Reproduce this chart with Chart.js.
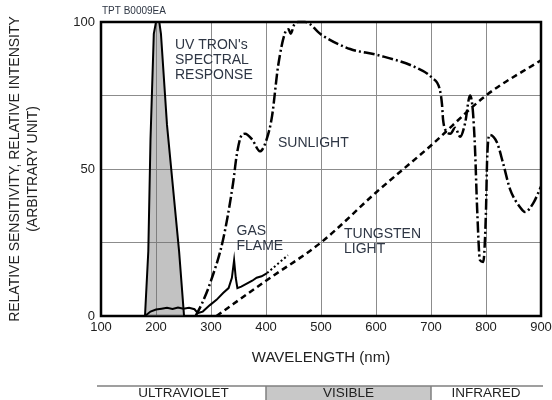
<!DOCTYPE html>
<html>
<head>
<meta charset="utf-8">
<script src="https://cdn.jsdelivr.net/npm/chart.js@4.4.1/dist/chart.umd.min.js"></script>
<style>
  html, body { margin: 0; padding: 0; background: #fff; }
  #wrap { width: 552px; height: 400px; position: relative; }
</style>
</head>
<body>
<div id="wrap"><canvas id="c" width="552" height="400"></canvas></div>
<script>
// ==================== DATA ====================
const uvNm   = [180, 186, 190, 196, 200, 206, 209, 220, 242, 251];
const uvVal  = [0, 22, 60, 96, 100, 100, 96, 65, 22, 0];

const sunNm  = [272, 284, 300, 322, 340, 347, 356, 362, 375, 389, 401, 411, 422, 435, 441, 445, 451, 458, 471,
                502, 553, 602, 674, 702, 716, 720, 722, 729, 735, 744, 753, 762, 771, 776, 780, 784, 789, 795,
                800, 802, 807, 820, 831, 844, 862, 871, 886, 900];
const sunVal = [0, 4.4, 12, 26, 45, 55, 61.6, 62, 60, 56, 60, 68, 85, 96.5, 97.5, 96, 99, 100, 100,
                95.5, 90.8, 88.8, 84.4, 81, 77, 72, 66.7, 62.6, 62, 64, 61, 65.6, 75, 70, 57, 36, 19, 18.4,
                36, 53, 61.6, 59, 52, 43, 37, 35.4, 38.4, 44];

const gasNm  = [180, 190, 200, 210, 220, 230, 240, 250, 260, 270, 276, 285, 298, 310, 322, 332, 338, 342, 345,
                348, 355, 365, 375, 383, 392, 402, 420, 440];
const gasVal = [0, 1.5, 2.2, 2.5, 2.8, 2.4, 2.9, 2.5, 2.8, 2.3, 1, 1.5, 3.7, 5.5, 7.8, 9.5, 13, 19, 13,
                9.5, 10, 11, 12, 13, 13.5, 14.6, 17.5, 20.7];

const tungNm  = [310, 400, 500, 600, 700, 800, 900];
const tungVal = [0, 12, 25, 42, 58, 75, 87];

const bandNames = ['ULTRAVIOLET', 'VISIBLE', 'INFRARED'];
const bandEdges = [100, 400, 700, 900];

const xTicks = [100, 200, 300, 400, 500, 600, 700, 800, 900];
const yLabelTicks = [0, 50, 100];

// ==================== HELPERS ====================
const FONT = "'Liberation Sans', Arial, sans-serif";
const TEXT = '#2e3644';
const pts = (xs, ys) => xs.map((x, i) => ({ x: x, y: ys[i] }));

// text notes placed in data units (left edge, first line centre)
const notes = [
    { nm: 234.5, v: 92.2, lines: ["UV TRON's", 'SPECTRAL', 'RESPONSE'] },
    { nm: 421.8, v: 58.8, lines: ['SUNLIGHT'] },
    { nm: 346.4, v: 29.0, lines: ['GAS', 'FLAME'] },
    { nm: 541.8, v: 27.9, lines: ['TUNGSTEN', 'LIGHT'] }
];

const extras = {
    id: 'extras',
    beforeDatasetsDraw(chart) {
        const { ctx, chartArea: a } = chart;
        ctx.save();
        ctx.strokeStyle = '#000';
        ctx.lineWidth = 2.5;
        ctx.strokeRect(a.left, a.top, a.right - a.left, a.bottom - a.top);
        ctx.restore();
    },
    afterDraw(chart) {
        const { ctx, chartArea: a } = chart;
        const xs = chart.scales.x, ys = chart.scales.y;
        ctx.save();

        // code at the top left
        ctx.fillStyle = TEXT;
        ctx.font = '10px ' + FONT;
        ctx.textAlign = 'left';
        ctx.textBaseline = 'middle';
        ctx.fillText('TPT B0009EA', a.left + 1, a.top - 11);

        // curve labels
        ctx.font = '14px ' + FONT;
        notes.forEach(n => {
            const px = xs.getPixelForValue(n.nm);
            const py = ys.getPixelForValue(n.v);
            n.lines.forEach((t, i) => ctx.fillText(t, px, py + i * 15));
        });

        // spectrum band strip at the bottom
        const top = 386, bot = 400;
        const bx = bandEdges.map(v => xs.getPixelForValue(v));
        ctx.fillStyle = '#c8c8c8';
        ctx.fillRect(bx[1], top, bx[2] - bx[1], bot - top);
        ctx.strokeStyle = '#808080';
        ctx.lineWidth = 1.5;
        ctx.beginPath();
        ctx.moveTo(bx[0] - 4, top);
        ctx.lineTo(bx[3] + 2, top);
        ctx.moveTo(bx[1], top); ctx.lineTo(bx[1], bot);
        ctx.moveTo(bx[2], top); ctx.lineTo(bx[2], bot);
        ctx.stroke();
        ctx.fillStyle = '#222';
        ctx.font = '13.5px ' + FONT;
        ctx.textAlign = 'center';
        bandNames.forEach((name, i) => {
            ctx.fillText(name, (bx[i] + bx[i + 1]) / 2, 393.5);
        });
        ctx.restore();
    }
};

// ==================== CHART ====================
new Chart(document.getElementById('c').getContext('2d'), {
    type: 'line',
    data: {
        datasets: [
            {
                label: 'Gas flame',
                data: pts(gasNm, gasVal),
                borderColor: '#000',
                borderWidth: 2,
                tension: 0,
                segment: {
                    borderDash: ctx => ctx.p0.parsed.x >= 402 ? [2, 2.5] : undefined
                }
            },
            {
                label: 'Sunlight',
                data: pts(sunNm, sunVal),
                borderColor: '#000',
                borderWidth: 2.5,
                borderDash: [11, 3, 2, 3],
                cubicInterpolationMode: 'monotone'
            },
            {
                label: 'Tungsten light',
                data: pts(tungNm, tungVal),
                borderColor: '#000',
                borderWidth: 2.5,
                borderDash: [6, 4],
                cubicInterpolationMode: 'monotone'
            },
            {
                label: "UV TRON's spectral response",
                data: pts(uvNm, uvVal),
                borderColor: '#000',
                borderWidth: 2,
                backgroundColor: 'rgba(110,110,110,0.42)',
                fill: 'origin',
                tension: 0
            }
        ]
    },
    options: {
        responsive: false,
        animation: false,
        clip: 4,
        layout: { padding: { top: 22, right: 11, left: 0, bottom: 0 } },
        elements: { point: { radius: 0, hoverRadius: 0 } },
        plugins: { legend: { display: false }, tooltip: { enabled: false } },
        scales: {
            x: {
                type: 'linear',
                min: 100, max: 900,
                afterFit: s => { s.height = 84; s.paddingLeft = 0; s.paddingRight = 0; },
                afterBuildTicks: s => { s.ticks = xTicks.map(v => ({ value: v })); },
                grid: { color: '#8c8c8c', lineWidth: 1, drawTicks: false },
                border: { display: false },
                ticks: { color: '#222', padding: 4, font: { family: FONT, size: 13 } },
                title: {
                    display: true,
                    text: 'WAVELENGTH (nm)',
                    color: '#222',
                    font: { family: FONT, size: 15, lineHeight: 1.2 },
                    padding: { top: 0, bottom: 33 }
                }
            },
            y: {
                min: 0, max: 100,
                afterFit: s => { s.width = 101; s.paddingTop = 0; s.paddingBottom = 0; },
                ticks: {
                    stepSize: 25,
                    color: '#222',
                    padding: 6,
                    font: { family: FONT, size: 13 },
                    callback: v => yLabelTicks.includes(v) ? v : ''
                },
                grid: { color: '#8c8c8c', lineWidth: 1, drawTicks: false },
                border: { display: false },
                title: {
                    display: true,
                    text: ['RELATIVE SENSITIVITY, RELATIVE INTENSITY', '(ARBITRARY UNIT)'],
                    color: '#222',
                    font: { family: FONT, size: 14, lineHeight: 1.3 },
                    padding: { top: 6, bottom: 0 }
                }
            }
        }
    },
    plugins: [extras]
});
</script>
</body>
</html>
